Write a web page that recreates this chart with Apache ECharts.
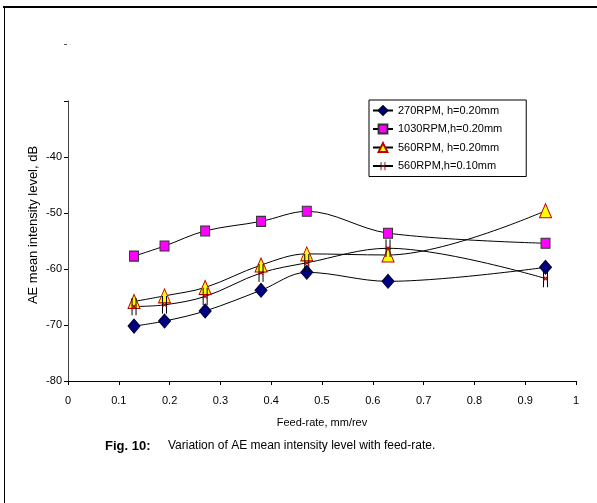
<!DOCTYPE html>
<html>
<head>
<meta charset="utf-8">
<script src="https://cdn.jsdelivr.net/npm/echarts@6/dist/echarts.min.js"></script>
<style>
  html, body { margin: 0; padding: 0; background: #fff; }
  #chart { width: 597px; height: 503px; }
</style>
</head>
<body>
<div id="chart"></div>
<script>
// Feed-rate values (mm/rev)
const feedRates = [0.13, 0.19, 0.27, 0.38, 0.47, 0.63, 0.94];

// AE mean intensity level (dB) for each test condition
const rpm270_h020 = [-70.2, -69.3, -67.5, -63.8, -60.6, -62.2, -59.7];
const rpm1030_h020 = [-57.7, -55.9, -53.2, -51.5, -49.7, -53.6, -55.4];
const rpm560_h020 = [-65.8, -64.8, -63.3, -59.3, -57.3, -57.5, -49.6];
const rpm560_h010 = [-66.7, -66.4, -64.9, -60.7, -58.9, -56.3, -61.7];

const seriesNames = ['270RPM, h=0.20mm', '1030RPM,h=0.20mm', '560RPM, h=0.20mm', '560RPM,h=0.10mm'];

// Axis settings
const xTicks = { min: 0, max: 1, interval: 0.1 };
const yTicks = { min: -80, max: -30, interval: 10 };

const FONT = "'Liberation Sans', Arial, sans-serif";

function pairs(xs, ys) {
  return xs.map((x, i) => [x, ys[i]]);
}

// Double-bar marker with a small red cross in the middle
const barCrossSvg =
  '<svg xmlns="http://www.w3.org/2000/svg" width="9" height="18" viewBox="0 0 9 18">' +
  '<line x1="2.5" y1="0" x2="2.5" y2="18" stroke="#000" stroke-width="1"/>' +
  '<line x1="6.5" y1="0" x2="6.5" y2="18" stroke="#000" stroke-width="1"/>' +
  '<line x1="2.5" y1="7" x2="6.5" y2="11" stroke="#c00000" stroke-width="1.2"/>' +
  '<line x1="6.5" y1="7" x2="2.5" y2="11" stroke="#c00000" stroke-width="1.2"/>' +
  '</svg>';
const barCrossSymbol = 'image://data:image/svg+xml;charset=utf-8,' + encodeURIComponent(barCrossSvg);

const lineBase = {
  type: 'line',
  smooth: 0.35,
  lineStyle: { color: '#000', width: 1 },
  emphasis: { disabled: true }
};

const chart = echarts.init(document.getElementById('chart'), null, { renderer: 'canvas' });

chart.setOption({
  animation: false,
  backgroundColor: '#fff',
  textStyle: { fontFamily: FONT, color: '#000' },
  grid: { left: 68, right: 21, top: 101, bottom: 122 },
  legend: {
    orient: 'vertical',
    left: 369,
    top: 100,
    padding: [5, 24, 5, 3],
    itemGap: 7.5,
    itemWidth: 20,
    itemHeight: 11,
    borderColor: '#000',
    borderWidth: 1,
    backgroundColor: '#fff',
    textStyle: { fontFamily: FONT, fontSize: 11, color: '#000' },
    data: seriesNames
  },
  xAxis: {
    type: 'value',
    min: xTicks.min,
    max: xTicks.max,
    interval: xTicks.interval,
    name: 'Feed-rate, mm/rev',
    nameLocation: 'middle',
    nameGap: 36,
    nameMoveOverlap: false,
    nameTextStyle: { fontFamily: FONT, fontSize: 11, color: '#000' },
    axisLine: { lineStyle: { color: '#000', width: 1 } },
    axisTick: { show: true, inside: false, length: 4, lineStyle: { color: '#000' } },
    axisLabel: { fontFamily: FONT, fontSize: 11, color: '#000', margin: 14,
      formatter: v => String(Math.round(v * 10) / 10) },
    splitLine: { show: false }
  },
  yAxis: {
    type: 'value',
    min: yTicks.min,
    max: yTicks.max,
    interval: yTicks.interval,
    name: 'AE mean intensity level, dB',
    nameLocation: 'middle',
    nameGap: 28,
    nameMoveOverlap: false,
    nameRotate: 90,
    nameTextStyle: { fontFamily: FONT, fontSize: 13, color: '#000', padding: [0, 0, 0, 32] },
    axisLine: { show: true, lineStyle: { color: '#444', width: 1 } },
    axisTick: { show: true, inside: false, length: 4, lineStyle: { color: '#000' } },
    axisLabel: { fontFamily: FONT, fontSize: 11, color: '#000', margin: 6,
      formatter: v => (v === yTicks.max ? '' : String(v)) },
    splitLine: { show: false }
  },
  series: [
    Object.assign({}, lineBase, {
      name: seriesNames[0],
      data: pairs(feedRates, rpm270_h020),
      symbol: 'diamond',
      symbolSize: [12, 14],
      itemStyle: { color: '#000080', borderColor: '#000033', borderWidth: 1 }
    }),
    Object.assign({}, lineBase, {
      name: seriesNames[1],
      data: pairs(feedRates, rpm1030_h020),
      symbol: 'rect',
      symbolSize: [9, 10],
      itemStyle: { color: '#ff00ff', borderColor: '#333', borderWidth: 1 }
    }),
    Object.assign({}, lineBase, {
      name: seriesNames[2],
      data: pairs(feedRates, rpm560_h020),
      symbol: 'triangle',
      symbolSize: [12, 14],
      itemStyle: { color: '#ffff00', borderColor: '#c00000', borderWidth: 1 }
    }),
    Object.assign({}, lineBase, {
      name: seriesNames[3],
      data: pairs(feedRates, rpm560_h010),
      symbol: barCrossSymbol,
      symbolSize: [9, 18],
      itemStyle: { color: '#000' }
    })
  ],
  graphic: [
    // frame lines along the top and left edges
    { type: 'line', shape: { x1: 3, y1: 7, x2: 597, y2: 7 }, style: { stroke: '#000', lineWidth: 2 } },
    { type: 'line', shape: { x1: 4.5, y1: 7, x2: 4.5, y2: 503 }, style: { stroke: '#000', lineWidth: 1 } },
    // small dash mark above the plot
    { type: 'line', shape: { x1: 64, y1: 44.5, x2: 67, y2: 44.5 }, style: { stroke: '#555', lineWidth: 1 } },
    // figure caption
    { type: 'text', left: 105, top: 440,
      style: { text: 'Fig. 10:', font: "bold 13px " + FONT, fill: '#000' } },
    { type: 'text', left: 168, top: 440,
      style: { text: 'Variation of AE mean intensity level with feed-rate.', font: "12px " + FONT, fill: '#000' } }
  ]
});
</script>
</body>
</html>
